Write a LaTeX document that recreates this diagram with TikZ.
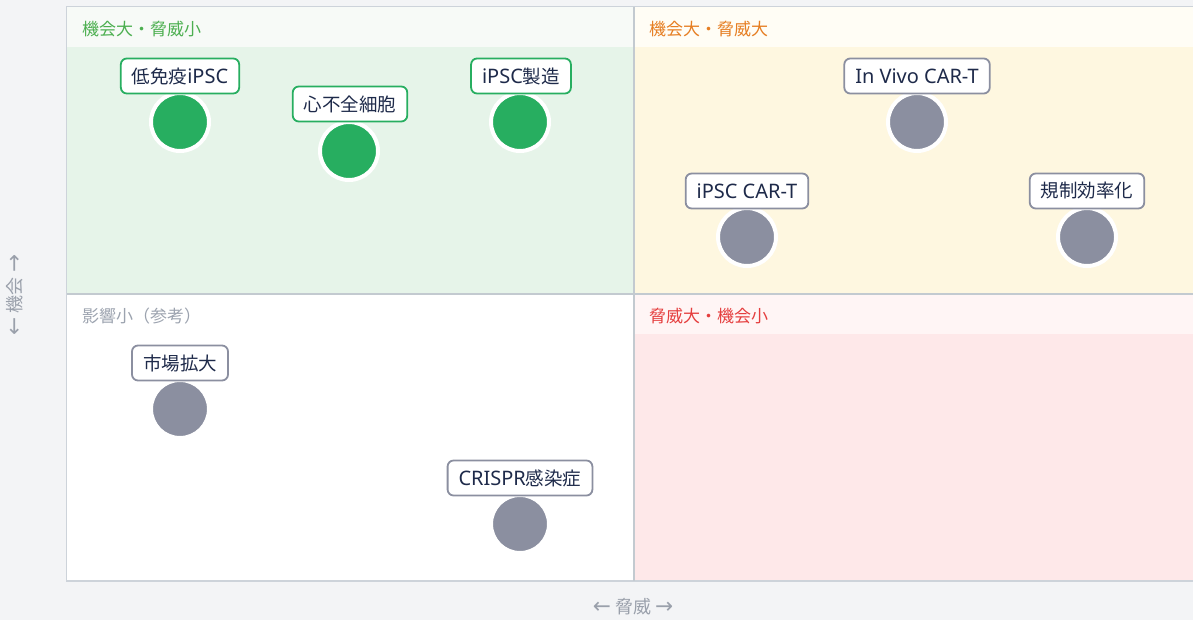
\documentclass[tikz,border=0pt]{standalone}
\usepackage{fontspec}
\setmainfont{Noto Sans CJK JP}
\newfontfamily\lat[Scale=1.08]{Noto Sans}
\newfontfamily\arr[Scale=1.2]{DejaVu Sans}
\definecolor{bgc}{HTML}{F3F4F6}
\definecolor{framec}{HTML}{CDD3DA}
\definecolor{divc}{HTML}{C3CAD0}
\definecolor{tlh}{HTML}{F7FAF7}
\definecolor{tlb}{HTML}{E6F4E9}
\definecolor{trh}{HTML}{FFFDF5}
\definecolor{trb}{HTML}{FEF7E0}
\definecolor{brh}{HTML}{FFF5F5}
\definecolor{brb}{HTML}{FEE8E9}
\definecolor{greenc}{HTML}{27AE60}
\definecolor{grayc}{HTML}{8B8FA0}
\definecolor{navyc}{HTML}{1E2A4A}
\definecolor{hgreen}{HTML}{4CAF50}
\definecolor{horange}{HTML}{E67E22}
\definecolor{hgray}{HTML}{9CA3AF}
\definecolor{hred}{HTML}{E53E3E}
\definecolor{axisc}{HTML}{9AA0AB}
\begin{document}
\begin{tikzpicture}[x=1pt,y=-1pt,
  lbl/.style={draw, line width=1.8pt, rounded corners=6pt, fill=white, inner xsep=11pt, minimum height=35pt, text=navyc, font=\fontsize{18.5}{22}\selectfont},
  glbl/.style={lbl, draw=greenc},
  ylbl/.style={lbl, draw=grayc},
  dot/.style={circle, draw=white, line width=4pt, minimum size=58pt, inner sep=0pt},
  gdot/.style={dot, fill=greenc},
  ydot/.style={dot, fill=grayc},
  qhead/.style={anchor=west, inner sep=0pt, font=\fontsize{17}{20}\selectfont},
  axislbl/.style={text=axisc, font=\fontsize{18}{22}\selectfont}]
\useasboundingbox (0,0) rectangle (1193,620);
\fill[bgc] (0,0) rectangle (1193,620);
% quadrants
\fill[tlh] (67,7) rectangle (634,47);
\fill[tlb] (67,47) rectangle (634,294);
\fill[trh] (634,7) rectangle (1193,47);
\fill[trb] (634,47) rectangle (1193,294);
\fill[white] (67,294) rectangle (634,581);
\fill[brh] (634,294) rectangle (1193,334);
\fill[brb] (634,334) rectangle (1193,581);
% frame
\draw[framec, line width=1.2pt] (1194,6.5) -- (66.5,6.5) -- (66.5,581) -- (1194,581);
% dividers
\draw[divc, line width=2pt] (634,7) -- (634,581);
\draw[divc, line width=1.5pt] (67,294) -- (1193,294);
% headers
\node[qhead, text=hgreen] (h1) at (82,29) {機会大・脅威小};
\node[qhead, text=horange] (h2) at (649,29) {機会大・脅威大};
\node[qhead, text=hgray] (h3) at (82,316) {影響小（参考）};
\node[qhead, text=hred] (h4) at (649,316) {脅威大・機会小};
% axes
\node[axislbl, rotate=90] (ay) at (15,295) {{\arr ←} 機会 {\arr →}};
\node[axislbl, inner sep=0pt] (ax) at (633,607) {{\arr ←} 脅威 {\arr →}};
% items
\node[gdot] (d1) at (180,122) {};
\node[glbl] (l1) at (180,76) {低免疫{\lat iPSC}};
\node[gdot] (d2) at (349,151) {};
\node[glbl] (l2) at (350,104) {心不全細胞};
\node[gdot] (d3) at (520,122) {};
\node[glbl] (l3) at (521,76) {{\lat iPSC}製造};
\node[ydot] (d4) at (917,122) {};
\node[ylbl] (l4) at (917,76) {\lat In Vivo CAR-T};
\node[ydot] (d5) at (747,237) {};
\node[ylbl] (l5) at (747,191) {\lat iPSC CAR-T};
\node[ydot] (d6) at (1087,237) {};
\node[ylbl] (l6) at (1087,191) {規制効率化};
\node[ydot] (d7) at (180,409) {};
\node[ylbl] (l7) at (180,363) {市場拡大};
\node[ydot] (d8) at (520,524) {};
\node[ylbl] (l8) at (520,478) {{\lat CRISPR}感染症};
\end{tikzpicture}
\end{document}
